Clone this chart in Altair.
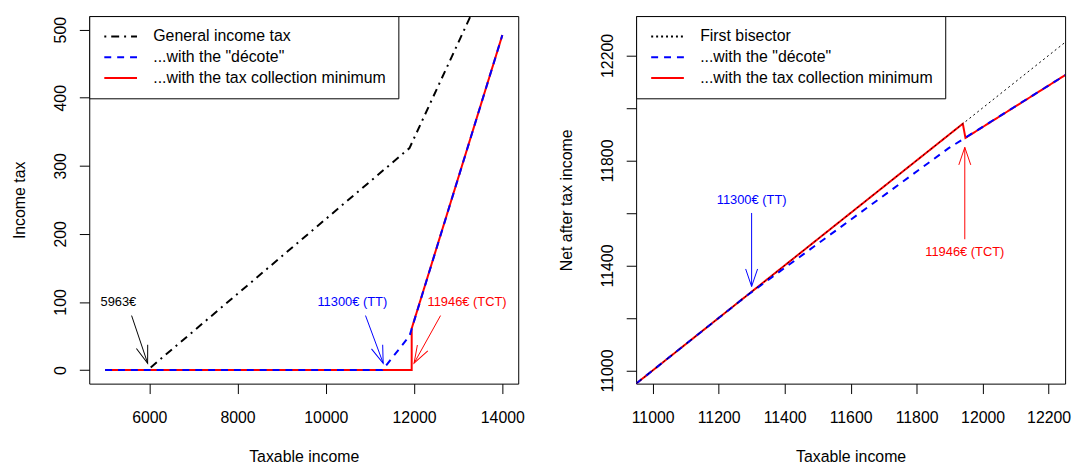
import math
import altair as alt
import pandas as pd

FONT = "Liberation Sans"

# ---------------- data ----------------
# Left panel: income tax as a function of taxable income
left_names = ["General income tax", '...with the "décote"', "...with the tax collection minimum"]
left_colors = ["#000000", "#0000ff", "#ff0000"]
left_dashes = [[2, 5, 8, 5], [7, 6], [1, 0]]

gen_x = [5000, 5963, 11896, 14000]
gen_y = [0, 0, 326, 621]
dec_x = [5000, 11284, 11896, 14000]
dec_y = [0, 0, 50, 492]
tcm_x = [5000, 11946, 11946, 14000]
tcm_y = [0, 0, 61, 492]

left_ticks_x = [6000, 8000, 10000, 12000, 14000]
left_ticks_y = [0, 100, 200, 300, 400, 500]

left_txt = ["5963€", "11300€ (TT)", "11946€ (TCT)"]
left_txt_x = [5300, 10600, 13200]
left_txt_y = [100, 100, 100]
left_txt_col = ["#000000", "#0000ff", "#ff0000"]
left_arr_x0 = [5600, 10900, 12600]
left_arr_y0 = [80, 80, 80]
left_arr_x1 = [5963, 11300, 12000]
left_arr_y1 = [10, 10, 10]

# Right panel: net after tax income
right_names = ["First bisector", '...with the "décote"', "...with the tax collection minimum"]
right_colors = ["#000000", "#0000ff", "#ff0000"]
right_dashes = [[2, 3], [7, 6], [1, 0]]

bis_x = [10950, 12250]
bis_y = [10950, 12250]
rdec_x = [10950, 11284, 11896, 12250]
rdec_y = [10950, 11284, 11846, 12125]
rtcm_x = [10950, 11940, 11948, 12250]
rtcm_y = [10950, 11940, 11886, 12125]

right_ticks_x = [11000, 11200, 11400, 11600, 11800, 12000, 12200]
right_ticks_y = [11000, 11200, 11400, 11600, 11800, 12000, 12200]
right_labels_y = [11000, 11400, 11800, 12200]

right_txt = ["11300€ (TT)", "11946€ (TCT)"]
right_txt_x = [11300, 11946]
right_txt_y = [11650, 11450]
right_txt_col = ["#0000ff", "#ff0000"]
right_arr_x0 = [11300, 11946]
right_arr_y0 = [11600, 11500]
right_arr_x1 = [11300, 11946]
right_arr_y1 = [11320, 11850]

# ---------------- layout ----------------
W, H = 433, 371
LX = [4640, 14360]
LY = [-20, 520]
RX = [10950, 12250]
RY = [10950, 12350]

ARROW = "M -0.34 1 L 0 0 L 0.34 1"
ARROW_SIZE = 1253


def series_df(name, xs, ys):
    return pd.DataFrame({"series": name, "x": xs, "y": ys, "o": list(range(len(xs)))})


def arrow_df(x0, y0, x1, y1, cols, dom_x, dom_y):
    sx = W / (dom_x[1] - dom_x[0])
    sy = H / (dom_y[1] - dom_y[0])
    angs = []
    for a, b, c, d in zip(x0, y0, x1, y1):
        dx = (c - a) * sx
        dy = -(d - b) * sy
        angs.append(math.degrees(math.atan2(dx, -dy)) % 360)
    return pd.DataFrame({"x0": x0, "y0": y0, "x1": x1, "y1": y1, "c": cols, "ang": angs})


def make_legend():
    return alt.Legend(
        title=None, orient="top-left", offset=0, padding=12.5,
        strokeColor="black", fillColor="white", cornerRadius=0,
        symbolType="stroke", symbolSize=1089, symbolStrokeWidth=2,
        labelFontSize=16, labelFont=FONT, labelColor="black",
        labelOffset=15.4, symbolOffset=1.7, clipHeight=16, rowPadding=5,
        labelLimit=400,
    )


def panel(layers_data, names, colors, dashes, dom_x, dom_y, xaxis, yaxis,
          txt_df, arr_df, order, widths):
    xs = alt.Scale(domain=dom_x, nice=False, zero=False)
    ys = alt.Scale(domain=dom_y, nice=False, zero=False)
    leg = make_legend()
    layers = []
    for idx in order:
        df = layers_data[idx]
        layers.append(
            alt.Chart(df).mark_line(clip=True, strokeWidth=widths[idx], strokeCap="butt").encode(
                x=alt.X("x:Q", scale=xs, axis=xaxis),
                y=alt.Y("y:Q", scale=ys, axis=yaxis),
                color=alt.Color("series:N", scale=alt.Scale(domain=names, range=colors), legend=leg),
                strokeDash=alt.StrokeDash("series:N", scale=alt.Scale(domain=names, range=dashes), legend=leg),
                order=alt.Order("o:Q"),
            )
        )
    rules = alt.Chart(arr_df).mark_rule(strokeWidth=1).encode(
        x=alt.X("x0:Q", scale=xs), y=alt.Y("y0:Q", scale=ys),
        x2="x1:Q", y2="y1:Q",
        stroke=alt.Stroke("c:N", scale=None),
    )
    heads = alt.Chart(arr_df).mark_point(
        shape=ARROW, size=ARROW_SIZE, filled=False, strokeWidth=1, opacity=1
    ).encode(
        x=alt.X("x1:Q", scale=xs), y=alt.Y("y1:Q", scale=ys),
        angle=alt.Angle("ang:Q", scale=None),
        stroke=alt.Stroke("c:N", scale=None),
    )
    texts = alt.Chart(txt_df).mark_text(fontSize=13, font=FONT, align="center", baseline="middle").encode(
        x=alt.X("x:Q", scale=xs), y=alt.Y("y:Q", scale=ys),
        text="t:N",
        fill=alt.Fill("c:N", scale=None),
    )
    return alt.layer(*layers, rules, heads, texts).properties(width=W, height=H)


# left panel
left_data = [
    series_df(left_names[0], gen_x, gen_y),
    series_df(left_names[1], dec_x, dec_y),
    series_df(left_names[2], tcm_x, tcm_y),
]
left_txt_df = pd.DataFrame({"t": left_txt, "x": left_txt_x, "y": left_txt_y, "c": left_txt_col})
left_arr_df = arrow_df(left_arr_x0, left_arr_y0, left_arr_x1, left_arr_y1, left_txt_col, LX, LY)

left = panel(
    left_data, left_names, left_colors, left_dashes, LX, LY,
    alt.Axis(values=left_ticks_x, format="d", title="Taxable income"),
    alt.Axis(values=left_ticks_y, format="d", title="Income tax"),
    left_txt_df, left_arr_df, order=[0, 2, 1], widths=[2, 2, 2],
)

# right panel
right_data = [
    series_df(right_names[0], bis_x, bis_y),
    series_df(right_names[1], rdec_x, rdec_y),
    series_df(right_names[2], rtcm_x, rtcm_y),
]
right_txt_df = pd.DataFrame({"t": right_txt, "x": right_txt_x, "y": right_txt_y, "c": right_txt_col})
right_arr_df = arrow_df(right_arr_x0, right_arr_y0, right_arr_x1, right_arr_y1, right_txt_col, RX, RY)

lab_expr = "indexof(" + str(right_labels_y) + ", datum.value) >= 0 ? datum.label : ''"
right = panel(
    right_data, right_names, right_colors, right_dashes, RX, RY,
    alt.Axis(values=right_ticks_x, format="d", title="Taxable income"),
    alt.Axis(values=right_ticks_y, format="d", title="Net after tax income", labelExpr=lab_expr),
    right_txt_df, right_arr_df, order=[2, 1, 0], widths=[1, 2, 2],
)

chart = (
    alt.hconcat(left, right, spacing=119, bounds="flush")
    .resolve_scale(color="independent", strokeDash="independent", x="independent", y="independent")
    .resolve_legend(color="independent", strokeDash="independent")
    .properties(padding={"left": 3, "top": 5, "right": 5, "bottom": 0}, background="white")
    .configure_view(stroke="black", strokeWidth=1)
    .configure_axis(
        domain=False, grid=False, tickColor="black", tickSize=10, tickWidth=1,
        labelFontSize=16, titleFontSize=16, labelFont=FONT, titleFont=FONT,
        titleFontWeight="normal", labelColor="black", titleColor="black",
        labelFlush=False, labelOverlap=False,
    )
    .configure_axisX(labelPadding=16, titlePadding=24)
    .configure_axisY(labelAngle=270, labelAlign="center", labelBaseline="alphabetic",
                     labelPadding=14, titlePadding=25)
)

chart.save("out.html", embed_options={"renderer": "svg", "actions": False})
